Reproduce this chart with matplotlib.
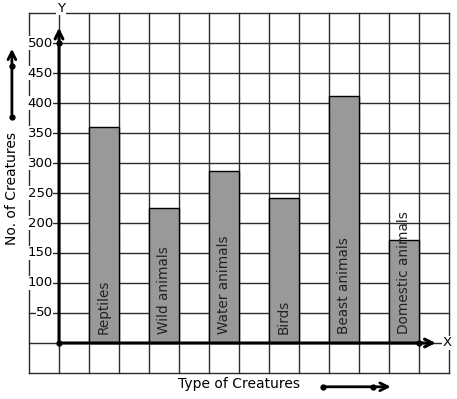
import matplotlib.pyplot as plt
import numpy as np

# data
creatures = ['Reptiles', 'Wild animals', 'Water animals', 'Birds', 'Beast animals', 'Domestic animals']
counts = [360, 225, 287, 242, 412, 171]
bar_left = [1, 3, 5, 7, 9, 11]
y_ticks = [50, 100, 150, 200, 250, 300, 350, 400, 450, 500]

fig = plt.figure(figsize=(4.57, 3.99), dpi=100)
ax = fig.add_axes([0, 0, 1, 1])
ax.set_xlim(-59 / 30, (457 - 59) / 30)
ax.set_ylim(-56 / 0.6, 343 / 0.6)
ax.axis('off')

grid_col = '#2b2b2b'
# grid
for gx in range(-1, 14):
    ax.plot([gx, gx], [-50, 550], color=grid_col, lw=1.0, zorder=1)
for gy in range(-50, 551, 50):
    ax.plot([-1, 13], [gy, gy], color=grid_col, lw=1.0, zorder=1)

# bars
ax.bar(bar_left, counts, width=1, align='edge', color='#999999',
       edgecolor='black', linewidth=1, zorder=2)
for x, name in zip(bar_left, creatures):
    ax.text(x + 0.5, 15, name, rotation=90, ha='center', va='bottom',
            fontsize=9.8, color='#222222', zorder=4)

# axes with arrows
ax.annotate('', xy=(0, 530), xytext=(0, 0),
            arrowprops=dict(arrowstyle='->', lw=2.2, color='black', mutation_scale=14), zorder=5)
ax.annotate('', xy=(12.65, 0), xytext=(0, 0),
            arrowprops=dict(arrowstyle='->', lw=2.2, color='black', mutation_scale=14), zorder=5)
ax.plot([0, 0, 12], [0, 500, 0], 'o', color='black', ms=3.5, zorder=6)
ax.text(0.07, 558, 'Y', ha='center', va='center', fontsize=9.5,
        bbox=dict(facecolor='white', edgecolor='none', pad=0.5), zorder=6)
ax.text(12.95, 0, 'X', ha='center', va='center', fontsize=9.5,
        bbox=dict(facecolor='white', edgecolor='none', pad=0.5), zorder=6)

# y tick labels
for t in y_ticks:
    ax.text(-0.2, t, str(t), ha='right', va='center', fontsize=9.5,
            bbox=dict(facecolor='white', edgecolor='none', pad=0.3), zorder=3)

# axis titles
ax.text(-1.57, 257, 'No. of Creatures', rotation=90, ha='center', va='center', fontsize=10)
ax.text(6.0, -68, 'Type of Creatures', ha='center', va='center', fontsize=10)

# decorative arrows
ax.annotate('', xy=(-1.57, 495), xytext=(-1.57, 377),
            arrowprops=dict(arrowstyle='->', lw=2, color='black', mutation_scale=14))
ax.plot([-1.57, -1.57], [377, 462], 'o', color='black', ms=3.5)
ax.annotate('', xy=(11.15, -73), xytext=(8.8, -73),
            arrowprops=dict(arrowstyle='->', lw=2, color='black', mutation_scale=14))
ax.plot([8.8, 10.47], [-73, -73], 'o', color='black', ms=3.5)

fig.savefig('out.png', dpi=100, facecolor='white')
